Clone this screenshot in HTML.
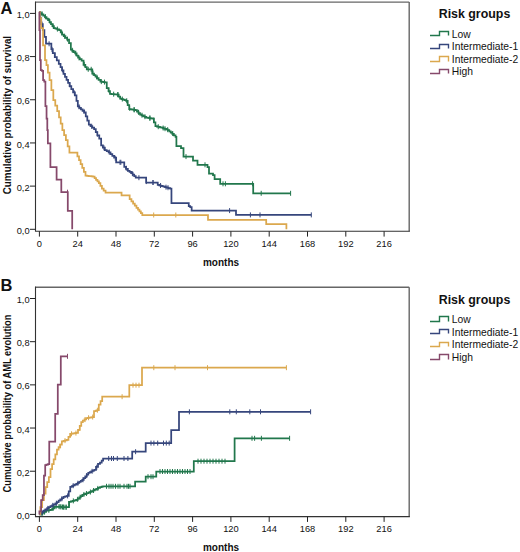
<!DOCTYPE html>
<html><head><meta charset="utf-8"><style>
html,body{margin:0;padding:0;background:#fff;width:520px;height:552px;overflow:hidden}
svg{display:block}
text{font-family:"Liberation Sans",sans-serif;fill:#111}
.tl{font-size:9.8px}
.ax{font-size:10px;font-weight:bold}
.lt{font-size:16.5px;font-weight:bold}
.lg{font-size:12.4px;font-weight:bold}
.li{font-size:10.3px}
</style></head><body>
<svg width="520" height="552" viewBox="0 0 520 552">
<path d="M409.2 2.1V231.3" stroke="#666" stroke-width="1.4"/>
<path d="M35.5 2.1H409.2" stroke="#666" stroke-width="1.4"/>
<path d="M35.5 1.4V231.3H409.9" stroke="#333" stroke-width="1.1" fill="none"/>
<path d="M30 229.3H35.5" stroke="#222" stroke-width="1"/>
<text x="31.16" y="233.9" text-anchor="end" class="tl" transform="scale(0.95 1)">0,0</text>
<path d="M30 186.12H35.5" stroke="#222" stroke-width="1"/>
<text x="31.16" y="190.72" text-anchor="end" class="tl" transform="scale(0.95 1)">0,2</text>
<path d="M30 142.94H35.5" stroke="#222" stroke-width="1"/>
<text x="31.16" y="147.54" text-anchor="end" class="tl" transform="scale(0.95 1)">0,4</text>
<path d="M30 99.76H35.5" stroke="#222" stroke-width="1"/>
<text x="31.16" y="104.36" text-anchor="end" class="tl" transform="scale(0.95 1)">0,6</text>
<path d="M30 56.58H35.5" stroke="#222" stroke-width="1"/>
<text x="31.16" y="61.18" text-anchor="end" class="tl" transform="scale(0.95 1)">0,8</text>
<path d="M30 13.4H35.5" stroke="#222" stroke-width="1"/>
<text x="31.16" y="18" text-anchor="end" class="tl" transform="scale(0.95 1)">1,0</text>
<path d="M39.4 231.3V236.6" stroke="#222" stroke-width="1"/>
<text x="41.47" y="246.8" text-anchor="middle" class="tl" transform="scale(0.95 1)">0</text>
<path d="M77.7 231.3V236.6" stroke="#222" stroke-width="1"/>
<text x="81.79" y="246.8" text-anchor="middle" class="tl" transform="scale(0.95 1)">24</text>
<path d="M116 231.3V236.6" stroke="#222" stroke-width="1"/>
<text x="122.11" y="246.8" text-anchor="middle" class="tl" transform="scale(0.95 1)">48</text>
<path d="M154.3 231.3V236.6" stroke="#222" stroke-width="1"/>
<text x="162.42" y="246.8" text-anchor="middle" class="tl" transform="scale(0.95 1)">72</text>
<path d="M192.6 231.3V236.6" stroke="#222" stroke-width="1"/>
<text x="202.74" y="246.8" text-anchor="middle" class="tl" transform="scale(0.95 1)">96</text>
<path d="M230.9 231.3V236.6" stroke="#222" stroke-width="1"/>
<text x="243.05" y="246.8" text-anchor="middle" class="tl" transform="scale(0.95 1)">120</text>
<path d="M269.2 231.3V236.6" stroke="#222" stroke-width="1"/>
<text x="283.37" y="246.8" text-anchor="middle" class="tl" transform="scale(0.95 1)">144</text>
<path d="M307.5 231.3V236.6" stroke="#222" stroke-width="1"/>
<text x="323.68" y="246.8" text-anchor="middle" class="tl" transform="scale(0.95 1)">168</text>
<path d="M345.8 231.3V236.6" stroke="#222" stroke-width="1"/>
<text x="364" y="246.8" text-anchor="middle" class="tl" transform="scale(0.95 1)">192</text>
<path d="M384.1 231.3V236.6" stroke="#222" stroke-width="1"/>
<text x="404.32" y="246.8" text-anchor="middle" class="tl" transform="scale(0.95 1)">216</text>
<text x="221" y="266" text-anchor="middle" class="ax">months</text>
<text transform="translate(10.6 115.1) rotate(-90)" x="-79.2" textLength="158.4" lengthAdjust="spacingAndGlyphs" class="ax">Cumulative probability of survival</text>
<text x="0.6" y="13.85" class="lt">A</text>
<text x="474.5" y="18.3" text-anchor="middle" class="lg">Risk groups</text>
<path d="M430 35.5H439.5V31.5H448.5V35.5" stroke="#21774c" stroke-width="1.4" fill="none"/>
<text x="451.8" y="37.6" class="li">Low</text>
<path d="M430 48.5H439.5V44.5H448.5V48.5" stroke="#36467c" stroke-width="1.4" fill="none"/>
<text x="451.8" y="50.2" class="li">Intermediate-1</text>
<path d="M430 61.5H439.5V56.5H448.5V61.5" stroke="#dba84e" stroke-width="1.4" fill="none"/>
<text x="451.8" y="62.8" class="li">Intermediate-2</text>
<path d="M430 73.5H439.5V69.5H448.5V73.5" stroke="#86496b" stroke-width="1.4" fill="none"/>
<text x="451.8" y="75.4" class="li">High</text>
<path d="M39.4 11.8H40.2V13.03H41.8V14.27H43.4V15.5H44.2H44.97V17H46.5V18.5H48.03V20H48.8H49.52V22H50.98V24H52.42V26H53.88V28H54.6H55.5V28.7H57.3V29.4H59.1V30.1H60H60.73V32.3H62.17V34.5H62.9H63.75V36.2H65.45V37.9H67.15V39.6H68H69.05V43.2H70.1H70.85V49.7H71.6H72.32V50.9H73.75V52.1H75.18V53.3H75.9H76.62V55.5H78.08V57.7H78.8H79.72V59.15H81.58V60.6H82.5H83.55V64.9H84.6H85.32V67.1H86.78V69.3H87.5H91.2H92.25V73.6H93.3H94.03V75.07H95.5V76.53H96.97V78H97.7H98.6V79.8H100.4V81.6H101.3H102.03V81.83H103.5V82.07H104.97V82.3H105.7H106.75V88.1H107.8H108.53V91H109.97V93.9H110.7H111.43V94.04H112.89V94.18H114.35V94.32H115.81V94.46H117.27V94.6H118H118.7V96.55H120.1V98.5H120.8H121.56V99.08H123.09V99.65H124.61V100.22H126.14V100.8H126.9H127.68V105H129.22V109.2H130H130.78V109.4H132.32V109.6H133.88V109.8H135.42V110H136.2H136.97V111.53H138.5V113.07H140.03V114.6H140.8H141.56V115.38H143.09V116.15H144.61V116.92H146.14V117.7H146.9H147.68V117.9H149.22V118.1H150.78V118.3H152.32V118.5H153.1H153.88V122.35H155.42V126.2H156.2H156.96V126.58H158.49V126.95H160.01V127.33H161.54V127.7H162.3H163.08V128.28H164.62V128.85H166.18V129.43H167.72V130H168.5H169.25V131.27H170.75V132.53H172.25V133.8H173H173.85V135.35H175.55V136.9H176.4V146.2H181V148H183.5V156.6H193V160.5H197.5V164.8H207.5V167H209V173.5H213V175H214.6V179H220.2V183.8H253.2V193.3H290.6" stroke="#21774c" stroke-width="1.75" fill="none"/>
<path d="M91.2 66.8V71.8M118 92.1V97.1M134 107.22V112.22M150 115.6V120.6M165 126.2V131.2M186 154.1V159.1M205 162.3V167.3M223 181.3V186.3M225.4 181.3V186.3M252.6 181.3V186.3M261.2 190.8V195.8M290.6 190.8V195.8M42 11.3V16.3M45.37 14.15V19.15M49.48 18.43V23.43M53.17 23.52V28.52M57.41 26.59V31.59M61.72 30.2V35.2M64.67 33.77V38.77M67.51 36.61V41.61M72.32 47.8V52.8M75.74 50.66V55.66M79.1 55.44V60.44M84.29 61.76V66.76M88.22 66.8V71.8M93.03 70.54V75.54M96.97 74.77V79.77M101.3 79.1V84.1M104.46 79.6V84.6M108.79 87.58V92.58M113.67 91.68V96.68M117.73 92.07V97.07M122.31 96.57V101.57M126.72 98.23V103.23M129.67 105.81V110.81M134.29 107.25V112.25M138.51 109.81V114.81M142.03 112.73V117.73M144.91 114.19V119.19M149.78 115.57V120.57M153.72 117.54V122.54M158.24 124.2V129.2M163.15 125.52V130.52M167.67 127.19V132.19M172.68 131.03V136.03" stroke="#21774c" stroke-width="1" fill="none"/>
<path d="M39.4 11.8H39.9V18.2H40.4H41.2V24.1H42.8V30H43.6H44.4V36.75H46V43.5H46.8H50.9H51.35V49H51.8H52.8V53H54.8V57H55.8H56.8V60.4H58.8V63.8H59.8H60.53V67.13H62V70.47H63.47V73.8H64.2H64.98V76.85H66.53V79.9H68.08V82.95H69.62V86H70.4H71.3V89.13H73.1V92.27H74.9V95.4H75.8H76.47V100.85H77.83V106.3H78.5H79.31V107.8H80.94V109.3H82.56V110.8H84.19V112.3H85H85.77V116.4H87.3V120.5H88.83V124.6H89.6H90.5V126.07H92.3V127.53H94.1V129H95H95.78V132.2H97.32V135.4H98.1H99.25V138.5H100.4H101.15V145.4H101.9H102.88V147.7H104.83V150H105.8H106.75V151.15H108.65V152.3H109.6H110.5V154.1H112.3V155.9H114.1V157.7H115H116.15V162.3H117.3H123.5H124.25V166.9H125H125.95V168.85H127.85V170.8H128.8H129.58V171.9H131.12V173H131.9H132.67V174.57H134.2V176.13H135.73V177.7H136.5H145.8H146.15V182.5H146.5H157H157.75V184.8H158.5H159.21V185.28H160.64V185.75H162.06V186.22H163.49V186.7H164.2H165.05V187.15H166.75V187.6H168.45V188.05H170.15V188.5H171H171.45V203H171.9H188.3H188.75V206H189.2H190.2V207H191.2H191.65V210.6H192.1H236V214.9H311.3" stroke="#36467c" stroke-width="1.75" fill="none"/>
<path d="M52 46.9V51.9M120 159.8V164.8M153 180V185M166 184.68V189.68M168 185.21V190.21M229.6 208.1V213.1M250.4 212.4V217.4M260 212.4V217.4M311.3 212.4V217.4M42 21.6V26.6M49.08 41.28V46.28M54.88 52.67V57.67M62.45 67.33V72.33M69.82 82.35V87.35M74.37 90.41V95.41M79.06 104.31V109.31M84.04 108.91V113.91M91.71 123.82V128.82M97.48 131.63V136.63M103.94 145.31V150.31M109.22 149.57V154.57M115.25 155.7V160.7M120.84 159.8V164.8M126.3 165.74V170.74M132.61 171.22V176.22M138.91 175.2V180.2M146.37 179.08V184.08M153.02 180V185M160.57 182.99V187.99" stroke="#36467c" stroke-width="1" fill="none"/>
<path d="M39.4 11.8H39.8V18H40.2H41.05V28H41.9H43.05V45.4H44.2H45V60H45.8H46.45V65H47.1H47.92V72.5H49.58V80H50.4H51.38V90H53.32V100H54.3H55.27V105.5H57.23V111H58.2H59.03V117.33H60.7V123.67H62.37V130H63.2H64.1V135H65.9V140H66.8H67.67V146.25H69.42V152.5H70.3H76.6H77.41V156.35H79.02V160.2H80.64V164.05H82.26V167.9H83.88V171.75H85.49V175.6H86.3H87.06V175.8H88.58V176H90.1V176.2H91.62V176.4H93.14V176.6H93.9H94.61V178.2H96.04V179.8H97.46V181.4H98.89V183H99.6H100.38V185.75H101.92V188.5H102.7H103.65V190.5H105.55V192.5H106.5H120.4H121.55V195.4H122.7H128.7H129.65V199.2H130.6H131.44V201.38H133.11V203.55H134.79V205.72H136.46V207.9H137.3H138.01V209.68H139.44V211.45H140.86V213.22H142.29V215H143H207.5H208V219.8H208.5H266.2V224.2H286.4V229.3" stroke="#dba84e" stroke-width="1.75" fill="none"/>
<path d="M153.7 212.5V217.5M175.8 212.5V217.5" stroke="#dba84e" stroke-width="1" fill="none"/>
<path d="M39.4 11.8V30H40V60H40.4H40.8V70H41.2H41.95V70.8H42.7H43.1V80H43.5H44.25V81.5H45H45.4V106H45.8H46.55V118.5H47.3V130H47.85V143.3H48.3H50.4V167.2H56.6V179.7H61.3V192.2H67.8V210.8H72.2V229.3" stroke="#86496b" stroke-width="1.75" fill="none"/>
<path d="M67.5 189.7V194.7" stroke="#86496b" stroke-width="1" fill="none"/>
<path d="M409.2 287.2V516.6" stroke="#666" stroke-width="1.4"/>
<path d="M35.5 287.2H409.2" stroke="#666" stroke-width="1.4"/>
<path d="M35.5 286.5V516.6H409.9" stroke="#333" stroke-width="1.1" fill="none"/>
<path d="M30 514.4H35.5" stroke="#222" stroke-width="1"/>
<text x="31.16" y="519" text-anchor="end" class="tl" transform="scale(0.95 1)">0,0</text>
<path d="M30 471.22H35.5" stroke="#222" stroke-width="1"/>
<text x="31.16" y="475.82" text-anchor="end" class="tl" transform="scale(0.95 1)">0,2</text>
<path d="M30 428.04H35.5" stroke="#222" stroke-width="1"/>
<text x="31.16" y="432.64" text-anchor="end" class="tl" transform="scale(0.95 1)">0,4</text>
<path d="M30 384.86H35.5" stroke="#222" stroke-width="1"/>
<text x="31.16" y="389.46" text-anchor="end" class="tl" transform="scale(0.95 1)">0,6</text>
<path d="M30 341.68H35.5" stroke="#222" stroke-width="1"/>
<text x="31.16" y="346.28" text-anchor="end" class="tl" transform="scale(0.95 1)">0,8</text>
<path d="M30 298.5H35.5" stroke="#222" stroke-width="1"/>
<text x="31.16" y="303.1" text-anchor="end" class="tl" transform="scale(0.95 1)">1,0</text>
<path d="M39.4 516.6V521.9" stroke="#222" stroke-width="1"/>
<text x="41.47" y="531.7" text-anchor="middle" class="tl" transform="scale(0.95 1)">0</text>
<path d="M77.7 516.6V521.9" stroke="#222" stroke-width="1"/>
<text x="81.79" y="531.7" text-anchor="middle" class="tl" transform="scale(0.95 1)">24</text>
<path d="M116 516.6V521.9" stroke="#222" stroke-width="1"/>
<text x="122.11" y="531.7" text-anchor="middle" class="tl" transform="scale(0.95 1)">48</text>
<path d="M154.3 516.6V521.9" stroke="#222" stroke-width="1"/>
<text x="162.42" y="531.7" text-anchor="middle" class="tl" transform="scale(0.95 1)">72</text>
<path d="M192.6 516.6V521.9" stroke="#222" stroke-width="1"/>
<text x="202.74" y="531.7" text-anchor="middle" class="tl" transform="scale(0.95 1)">96</text>
<path d="M230.9 516.6V521.9" stroke="#222" stroke-width="1"/>
<text x="243.05" y="531.7" text-anchor="middle" class="tl" transform="scale(0.95 1)">120</text>
<path d="M269.2 516.6V521.9" stroke="#222" stroke-width="1"/>
<text x="283.37" y="531.7" text-anchor="middle" class="tl" transform="scale(0.95 1)">144</text>
<path d="M307.5 516.6V521.9" stroke="#222" stroke-width="1"/>
<text x="323.68" y="531.7" text-anchor="middle" class="tl" transform="scale(0.95 1)">168</text>
<path d="M345.8 516.6V521.9" stroke="#222" stroke-width="1"/>
<text x="364" y="531.7" text-anchor="middle" class="tl" transform="scale(0.95 1)">192</text>
<path d="M384.1 516.6V521.9" stroke="#222" stroke-width="1"/>
<text x="404.32" y="531.7" text-anchor="middle" class="tl" transform="scale(0.95 1)">216</text>
<text x="221" y="550.6" text-anchor="middle" class="ax">months</text>
<text transform="translate(10.6 403.5) rotate(-90)" x="-89" textLength="178" lengthAdjust="spacingAndGlyphs" class="ax">Cumulative probability of AML evolution</text>
<text x="0.6" y="290.8" class="lt">B</text>
<text x="474.5" y="303.6" text-anchor="middle" class="lg">Risk groups</text>
<path d="M430 321.5H439.5V316.5H448.5V321.5" stroke="#21774c" stroke-width="1.4" fill="none"/>
<text x="451.8" y="322.9" class="li">Low</text>
<path d="M430 333.5H439.5V329.5H448.5V333.5" stroke="#36467c" stroke-width="1.4" fill="none"/>
<text x="451.8" y="335.5" class="li">Intermediate-1</text>
<path d="M430 346.5H439.5V342.5H448.5V346.5" stroke="#dba84e" stroke-width="1.4" fill="none"/>
<text x="451.8" y="348.1" class="li">Intermediate-2</text>
<path d="M430 359.5H439.5V354.5H448.5V359.5" stroke="#86496b" stroke-width="1.4" fill="none"/>
<text x="451.8" y="360.7" class="li">High</text>
<path d="M39.4 514.4H41.5H42.42V512.83H44.25V511.77H46.08V510.7H47H47.72V510.4H49.15V510.1H50.58V509.8H51.3H52.22V508.3H54.08V506.8H55H57.8H58.61V506.68H60.24V506.85H61.86V507.02H63.49V507.2H64.3H68H69V501.8H70H70.88V501.3H72.62V500.8H74.38V500.3H76.12V499.8H77H77.75V498.55H79.25V497.3H80.75V496.05H82.25V494.8H83H83.8V494.2H85.4V493.6H87V493H88.6V492.4H90.2V491.8H91H91.75V491.05H93.25V490.3H94.75V489.55H96.25V488.8H97H98V487.9H100V487H101H101.7V486.65H103.1V486.3H103.8H134.6H135.1V481.5H135.6H145.2H145.7V476.7H146.2H155.8H156.25V471.5H156.7H193.8V461.2H234.6V438.3H289.6" stroke="#21774c" stroke-width="1.75" fill="none"/>
<path d="M59 504.13V509.13M61 504.34V509.34M62.5 504.51V509.51M64 504.67V509.67M66 504.7V509.7M106.5 483.8V488.8M109 483.8V488.8M111 483.8V488.8M113 483.8V488.8M115.5 483.8V488.8M118 483.8V488.8M120 483.8V488.8M124 483.8V488.8M127 483.8V488.8M128.5 483.8V488.8M130 483.8V488.8M148 474.2V479.2M151 474.2V479.2M153 474.2V479.2M160 469V474M162.5 469V474M165 469V474M167.5 469V474M170 469V474M172.5 469V474M175 469V474M177.5 469V474M180 469V474M182.5 469V474M185 469V474M187.5 469V474M190 469V474M198 458.7V463.7M201 458.7V463.7M204 458.7V463.7M207 458.7V463.7M210 458.7V463.7M213 458.7V463.7M216 458.7V463.7M219 458.7V463.7M222 458.7V463.7M225 458.7V463.7M252 435.8V440.8M254.6 435.8V440.8M261.4 435.8V440.8M289.6 435.8V440.8M42 511.11V516.11M44.58 509.61V514.61M48.83 507.82V512.82M53.36 505.63V510.63M55.99 504.19V509.19M60.12 504.25V509.25M63.43 504.61V509.61M66.2 504.7V509.7M69.27 501.28V506.28M73.33 498.35V503.35M77.62 496.79V501.79M80.16 494.67V499.67M83.9 491.96V496.96M86.44 491.01V496.01M90.4 489.52V494.52M93.55 488.03V493.03M97.85 485.92V490.92" stroke="#21774c" stroke-width="1" fill="none"/>
<path d="M39.4 514.4H40.26V513.16H41.98V511.92H43.7V510.68H45.42V509.44H47.14V508.2H48H48.82V507.22H50.46V506.24H52.1V505.26H53.74V504.28H55.38V503.3H56.2H57.01V502H58.63V500.7H60.25V499.4H61.87V498.1H63.49V496.8H64.3H65.22V496.3H67.08V495.8H68H68.75V491.3H70.25V486.8H71H71.75V486.05H73.25V485.3H74.75V484.55H76.25V483.8H77H77.75V482.8H79.25V481.8H80.75V480.8H82.25V479.8H83H83.75V478.05H85.25V476.3H86.75V474.55H88.25V472.8H89H89.75V472.07H91.25V471.35H92.75V470.62H94.25V469.9H95H96V466.9H98V463.9H99H100V462.5H101H101.7V460.5H103.1V458.5H103.8H131.7H132.2V451.7H132.7H145.2H145.7V443.1H146.2H171.2V430.2H179V411.8H310.6" stroke="#36467c" stroke-width="1.75" fill="none"/>
<path d="M108.7 456V461M111.5 456V461M113.5 456V461M117.3 456V461M124 456V461M127.9 456V461M135.6 449.2V454.2M151 440.6V445.6M153.9 440.6V445.6M157.7 440.6V445.6M163.5 440.6V445.6M166.3 440.6V445.6M169.2 440.6V445.6M189.4 409.3V414.3M229.8 409.3V414.3M236.3 409.3V414.3M249.8 409.3V414.3M260.5 409.3V414.3M310.6 409.3V414.3M42 510.03V515.03M47.83 505.83V510.83M52.79 502.84V507.84M56.38 500.66V505.66M61.85 496.26V501.26M67.61 493.41V498.41M73.2 483.2V488.2M77.89 480.71V485.71M82.96 477.32V482.32M86.68 473V478M92.08 468.81V473.81M96.78 464.73V469.73" stroke="#36467c" stroke-width="1" fill="none"/>
<path d="M39.4 514.4H40.33V507.2H42.17V500H43.1H43.92V493.5H45.58V487H46.4H47.23V482.1H48.88V477.2H49.7H50.5V469H51.3H52.1V464.2H52.9H53.7V459.3H54.5H55.33V454.4H56.97V449.5H57.8H58.6V447.1H60.2V444.7H61H61.85V441.4H62.7H63.52V440.87H65.15V440.33H66.78V439.8H67.6H68.45V436.85H70.15V433.9H71H71.75V433.65H73.25V433.4H74.75V433.15H76.25V432.9H77H78V429.9H79H79.75V425.95H81.25V422H82H82.83V420.67H84.5V419.33H86.17V418H87H87.75V417.75H89.25V417.5H90.75V417.25H92.25V417H93H94V411H95H95.75V410.5H97.25V410H98H98.8V404.6H99.6H100.55V401H101.5H102.2V396.7H102.9H128.8H129.3V385.2H129.8H141.3H142V367.7H142.7H286.4" stroke="#dba84e" stroke-width="1.75" fill="none"/>
<path d="M122.1 394.2V399.2M133 382.7V387.7M136 382.7V387.7M139 382.7V387.7M153.8 365.2V370.2M175 365.2V370.2M207.5 365.2V370.2M286.4 365.2V370.2M60 443.7V448.7M65.02 438.14V443.14M71.51 431.31V436.31M75.94 430.58V435.58M79.67 425.63V430.63M84.97 417.12V422.12M88.57 415.24V420.24M92.66 414.56V419.56M97.38 407.71V412.71" stroke="#dba84e" stroke-width="1" fill="none"/>
<path d="M39.4 514.4V511.4H41.1V500H42.3H42.7V495.1H43.1H43.95V475.6H44.8H45.2V465H45.6H46.4V464.6H48V464.2H48.8H49.25V441.6H49.7H55.2V413.8H57.8V384.6H60.8V356.3H67.5" stroke="#86496b" stroke-width="1.75" fill="none"/>
<path d="M67.5 353.8V358.8" stroke="#86496b" stroke-width="1" fill="none"/>
</svg>
</body></html>
